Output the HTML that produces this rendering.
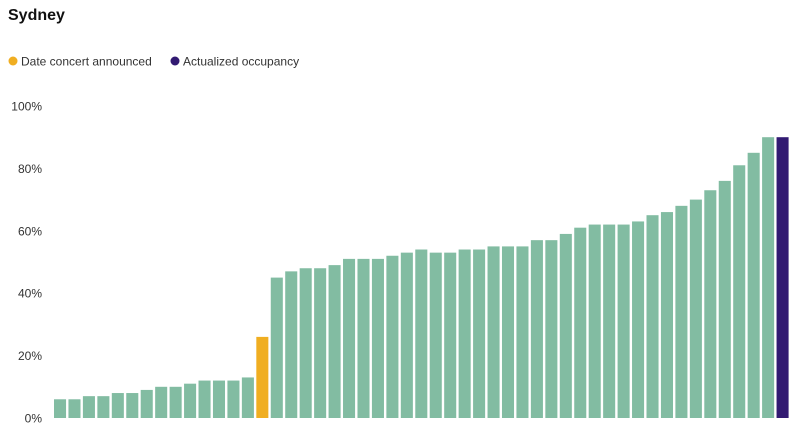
<!DOCTYPE html>
<html><head><meta charset="utf-8"><style>
body{margin:0;background:#fff;font-family:"Liberation Sans",sans-serif;}
svg{display:block}
</style></head><body>
<svg width="800" height="429">
<text x="8" y="20" font-size="16" font-weight="bold" fill="#111">Sydney</text>
<g>
<circle cx="13" cy="61" r="4.5" fill="#f0ae21"/>
<text x="21" y="65.5" font-size="12" fill="#333">Date concert announced</text>
<circle cx="175" cy="61" r="4.5" fill="#321a72"/>
<text x="183" y="65.5" font-size="12" fill="#333">Actualized occupancy</text>
</g>
<g id="axis"></g>
<g id="bars"></g>
</svg>
<script>
const values=[6,6,7,7,8,8,9,10,10,11,12,12,12,13,26,45,47,48,48,49,51,51,51,52,53,54,53,53,54,54,55,55,55,57,57,59,61,62,62,62,63,65,66,68,70,73,76,81,85,90,90];
const highlightIndex=[14];
const finalIndex=[50];
const ticks=[0,20,40,60,80,100];
const ns="http://www.w3.org/2000/svg";
const x0=54,x1=791,yb=418,yt=106;
const y=v=>yb-(v/100)*(yb-yt);
const step=(x1-x0)/values.length;
const ax=document.getElementById('axis');
ticks.forEach(t=>{
 const tx=document.createElementNS(ns,'text');
 tx.setAttribute('x',42);tx.setAttribute('y',y(t)+4.5);
 tx.setAttribute('text-anchor','end');tx.setAttribute('font-size','12');tx.setAttribute('fill','#333');
 tx.textContent=t+'%';
 
 
 ax.appendChild(tx);
});
const g=document.getElementById('bars');
values.forEach((v,i)=>{
 const r=document.createElementNS(ns,'rect');
 r.setAttribute('x',x0+i*step);r.setAttribute('width',step-2.4);
 r.setAttribute('y',y(v));r.setAttribute('height',yb-y(v));
 r.setAttribute('fill',highlightIndex.includes(i)?'#f0ae21':finalIndex.includes(i)?'#321a72':'#82bca2');
 
 
 g.appendChild(r);
});
</script>
</body></html>
